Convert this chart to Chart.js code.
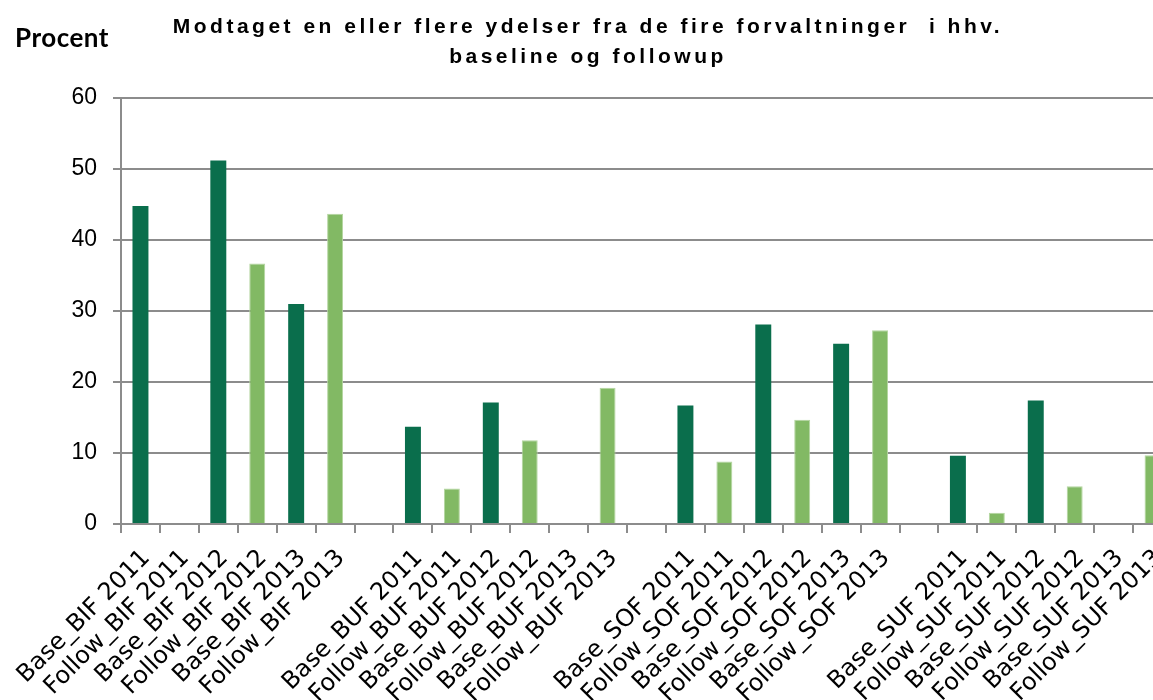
<!DOCTYPE html>
<html>
<head>
<meta charset="utf-8">
<script src="https://cdn.jsdelivr.net/npm/chart.js@4/dist/chart.umd.min.js"></script>
<style>
  html, body { margin: 0; padding: 0; background: #fff; overflow: hidden; }
  #wrap { position: relative; width: 1153px; height: 700px; overflow: hidden; background: #fff; }
  #inner { position: absolute; left: 0; top: 0; width: 1172px; height: 720px; }
  #title { position: absolute; left: 0; top: 11px; width: 1176px; text-align: center;
           font-family: "Liberation Sans", Arial, sans-serif; font-weight: bold; font-size: 21px;
           letter-spacing: 3.5px; line-height: 30px; color: #000; white-space: pre; z-index: 2; }
  #ylab { position: absolute; left: 15px; top: 21px; font-family: Lato, "Open Sans", sans-serif;
          font-weight: bold; font-size: 26px; letter-spacing: 0.5px; color: #000; z-index: 2; }
</style>
</head>
<body>
<div id="wrap">
  <div id="inner"><canvas id="c" width="1172" height="720"></canvas></div>
  <div id="title">Modtaget en eller flere ydelser fra de fire forvaltninger  i hhv.
baseline og followup</div>
  <div id="ylab">Procent</div>
</div>
<script>
const categories = [
  "Base_BIF 2011", "Follow_BIF 2011", "Base_BIF 2012", "Follow_BIF 2012", "Base_BIF 2013", "Follow_BIF 2013",
  "",
  "Base_BUF 2011", "Follow_BUF 2011", "Base_BUF 2012", "Follow_BUF 2012", "Base_BUF 2013", "Follow_BUF 2013",
  "",
  "Base_SOF 2011", "Follow_SOF 2011", "Base_SOF 2012", "Follow_SOF 2012", "Base_SOF 2013", "Follow_SOF 2013",
  "",
  "Base_SUF 2011", "Follow_SUF 2011", "Base_SUF 2012", "Follow_SUF 2012", "Base_SUF 2013", "Follow_SUF 2013"
];
const baseValues = [
  44.8, null, 51.2, null, 31.0, null,
  null,
  13.7, null, 17.1, null, null, null,
  null,
  16.7, null, 28.1, null, 25.4, null,
  null,
  9.6, null, 17.4, null, null, null
];
const followValues = [
  null, null, null, 36.7, null, 43.7,
  null,
  null, 5.0, null, 11.8, null, 19.2,
  null,
  null, 8.8, null, 14.7, null, 27.3,
  null,
  null, 1.6, null, 5.3, null, 9.7
];
const yTicks = [0, 10, 20, 30, 40, 50, 60];

const gridColor = '#8c8c8c';

new Chart(document.getElementById('c'), {
  type: 'bar',
  data: {
    labels: categories,
    datasets: [
      { label: 'Base', data: baseValues, backgroundColor: '#0a6e4c', borderWidth: 0,
        grouped: false, categoryPercentage: 1, barPercentage: 0.41 },
      { label: 'Follow', data: followValues, backgroundColor: '#82b964', borderColor: '#b4d6a0', borderWidth: 1,
        grouped: false, categoryPercentage: 1, barPercentage: 0.41 }
    ]
  },
  options: {
    responsive: false,
    animation: false,
    layout: { padding: { top: 98, right: 0, bottom: 0, left: 0 } },
    plugins: { legend: { display: false }, tooltip: { enabled: false }, title: { display: false } },
    scales: {
      x: {
        offset: true,
        grid: { display: true, drawOnChartArea: false, drawTicks: true, tickLength: 9,
                color: gridColor, lineWidth: 2, offset: true },
        border: { display: true, color: gridColor, width: 2 },
        ticks: { autoSkip: false, maxRotation: 45, minRotation: 45, padding: 11, labelOffset: 6,
                 color: '#000', font: { family: "'DejaVu Sans', Verdana, sans-serif", size: 24 } },
        afterFit: (axis) => { axis.height = 720 - 524; axis.paddingLeft = 0; axis.paddingRight = 0; }
      },
      y: {
        min: 0, max: 60,
        afterBuildTicks: (axis) => { axis.ticks = yTicks.map(v => ({ value: v })); },
        grid: { color: gridColor, lineWidth: 2, tickLength: 8, drawTicks: true },
        border: { display: true, color: gridColor, width: 2 },
        ticks: { padding: 16, color: '#000', font: { family: "'Liberation Sans', Arial, sans-serif", size: 23 } },
        afterFit: (axis) => { axis.width = 121; }
      }
    }
  }
});
</script>
</body>
</html>
